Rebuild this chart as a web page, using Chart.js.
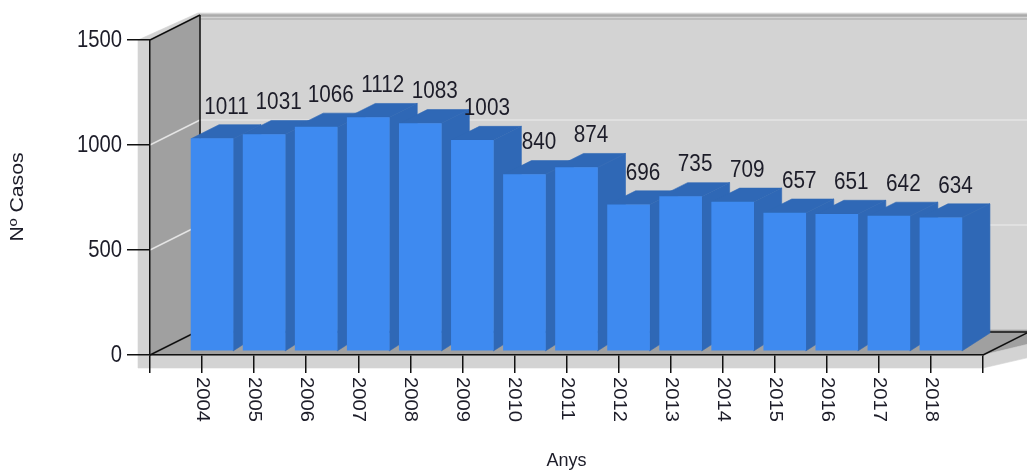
<!DOCTYPE html>
<html><head><meta charset="utf-8">
<style>html,body{margin:0;padding:0;background:#fff}#w{width:1027px;height:471px;position:relative;overflow:hidden}canvas{display:block;filter:blur(0.45px)}</style>
<script src="https://cdn.jsdelivr.net/npm/chart.js@4"></script></head>
<body><div id="w"><canvas id="c" width="1027" height="471"></canvas></div>
<script>
const years=['2004','2005','2006','2007','2008','2009','2010','2011','2012','2013','2014','2015','2016','2017','2018'];
const cases=[1011,1031,1066,1112,1083,1003,840,874,696,735,709,657,651,642,634];
const yTicks=[0,500,1000,1500];
const yTitle='Nº Casos';
const xTitle='Anys';
const FONT='"Liberation Sans",Arial,sans-serif';
const INK='#1c1c28';
const DX=50,DY=25,BDX=10,BDY=4,BW=28,BH=14,BHB=18;
function poly(ctx,pts,fill){ctx.beginPath();pts.forEach((p,i)=>i?ctx.lineTo(p[0],p[1]):ctx.moveTo(p[0],p[1]));ctx.closePath();ctx.fillStyle=fill;ctx.strokeStyle=fill;ctx.lineWidth=0.6;ctx.fill();ctx.stroke();}
function line(ctx,a,b,col,w){ctx.beginPath();ctx.moveTo(a[0],a[1]);ctx.lineTo(b[0],b[1]);ctx.strokeStyle=col;ctx.lineWidth=w;ctx.stroke();}
function txt(c,s,x,y,size,sx,sy,rot,align){c.save();c.translate(x,y);if(rot)c.rotate(rot);c.scale(sx,sy);c.font=size+'px '+FONT;c.fillStyle=INK;c.textAlign=align;c.textBaseline='middle';c.fillText(s,0,0);c.restore();}
const box3d={id:'box3d',
 beforeDraw(ch){const c=ch.ctx,a=ch.chartArea,y=ch.scales.y;const L=a.left,R=a.right,T=a.top,B=a.bottom,W=ch.width;
  c.save();
  poly(c,[[L-12,T],[L+DX-2,T-DY-2],[W+60,T-DY-2],[W+60,B-DY-10],[R,B+13],[L-12,B+13]],'#d3d3d3');
  poly(c,[[L,T],[L+DX,T-DY],[L+DX,B-DY],[L,B]],'#a0a0a0');
  poly(c,[[L,B],[L+DX,B-DY],[W+60,B-DY],[R,B]],'#a0a0a0');
  poly(c,[[R,B],[W+60,B-DY],[W+60,B-DY+14],[R,B+13]],'#d3d3d3');
  line(c,[L+DX,T-DY+0.5],[W,T-DY+0.5],'#ababab',2.5);
  line(c,[L+DX,T-DY+4],[W,T-DY+4],'#bcbcbc',2);
  yTicks.slice(1,-1).forEach(v=>{const p=y.getPixelForValue(v);
    line(c,[L,p],[L+DX,p-DY],'#e4e4e4',1.5);
    line(c,[L+DX,p-DY],[W,p-DY],'#e4e4e4',1.5);});
  line(c,[L,T],[L+DX,T-DY],'#111',1.5);
  line(c,[L+DX,T-DY],[L+DX,B-DY],'#111',1.5);
  line(c,[L,B],[L+DX,B-DY],'#111',1.5);
  line(c,[L+DX,B-DY+2],[W,B-DY+2],'#111',1.5);
  line(c,[R,B],[W,B-DY+3],'#111',1.5);
  c.restore();},
 beforeDatasetsDraw(ch){const c=ch.ctx,m=ch.getDatasetMeta(0),base=ch.scales.y.getPixelForValue(0)-BDY;
  c.save();
  m.data.forEach((b,i)=>{if(cases[i-1]===undefined)return;
    const l=b.x-b.width/2+BDX,r=l+b.width,t=b.y-BDY;
    poly(c,[[l,t],[r,t],[r+BW,t-BH],[l+BW,t-BH]],'#2f68b6');
    poly(c,[[r,t],[r+BW,t-BH],[r+BW,base-BHB],[r,base]],'#2f68b6');});
  c.restore();
  c.save();c.translate(BDX,-BDY);},
 afterDatasetsDraw(ch){const c=ch.ctx,m=ch.getDatasetMeta(0),x=ch.scales.x,y=ch.scales.y,a=ch.chartArea;
  c.restore();
  m.data.forEach((b,i)=>{if(cases[i-1]===undefined)return;txt(c,String(cases[i-1]),b.x+24.5,b.y-35.5,23,0.9,1,0,'center');});
  yTicks.forEach(v=>txt(c,String(v),a.left-28,y.getPixelForValue(v)+1,23,0.88,1,0,'right'));
  years.forEach((yr,i)=>txt(c,yr,x.getPixelForTick(i+1),377,18,1.12,1,Math.PI/2,'left'));
  txt(c,yTitle,18.5,(a.top+a.bottom)/2-0.5,18,1.18,1,-Math.PI/2,'center');}
};
new Chart(document.getElementById('c'),{
 type:'bar',
 data:{labels:['',...years,''],datasets:[{data:[null,...cases,null],backgroundColor:'#3e8af0',borderWidth:0,barThickness:42,clip:false}]},
 plugins:[box3d],
 options:{responsive:false,animation:false,
  layout:{padding:{left:0,right:44,top:40,bottom:0}},
  plugins:{legend:{display:false},title:{display:false},tooltip:{enabled:false}},
  scales:{
   x:{type:'category',offset:false,afterFit(s){s.height=116;},
      grid:{offset:false,drawOnChartArea:false,drawTicks:true,tickLength:18,color:'#111',lineWidth:1.5},
      border:{color:'#111',width:1.5},
      ticks:{display:false,autoSkip:false},
      title:{display:true,text:xTitle,color:INK,font:{family:FONT,size:18},padding:{top:1,bottom:-1}}},
   y:{min:0,max:1500,afterFit(s){s.width=150;},
      afterBuildTicks(s){s.ticks=yTicks.map(v=>({value:v}));},
      grid:{drawOnChartArea:false,tickLength:23,color:'#111',lineWidth:1.5},
      border:{color:'#111',width:1.5},
      ticks:{display:false}}
  }}});
</script></body></html>
